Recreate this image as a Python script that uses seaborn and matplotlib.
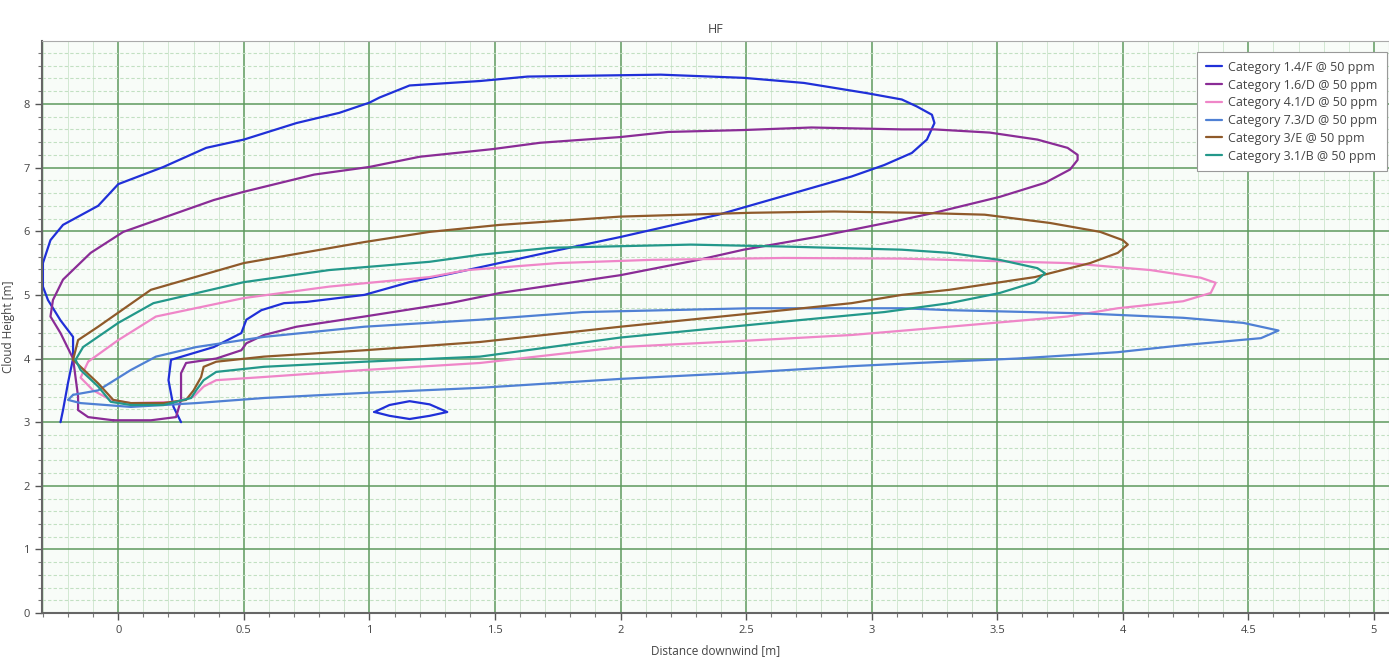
import numpy as np
import pandas as pd
import matplotlib
matplotlib.use("Agg")
import matplotlib.pyplot as plt
from matplotlib.ticker import MultipleLocator
import seaborn as sns

# --------------------------------------------------
# Contour data (distance downwind [m], cloud height [m])
# --------------------------------------------------
labels = [
    "Category 1.4/F @ 50 ppm",
    "Category 1.6/D @ 50 ppm",
    "Category 4.1/D @ 50 ppm",
    "Category 7.3/D @ 50 ppm",
    "Category 3/E @ 50 ppm",
    "Category 3.1/B @ 50 ppm",
]
colors = ["#2030d8", "#8a2c96", "#ef86c8", "#4f80d4", "#8f5a2a", "#23988a"]

# 1.4/F
x_14f = [-0.23, -0.22, -0.20, -0.18, -0.18, -0.23, -0.28, -0.30, -0.30, -0.27, -0.22,
         -0.08, 0.00, 0.18, 0.35, 0.50, 0.71, 0.88, 1.00, 1.04, 1.16, 1.44, 1.63,
         2.16, 2.49, 2.73, 2.98, 3.12, 3.18, 3.24, 3.25, 3.22, 3.16, 3.05, 2.92,
         2.39, 2.00, 1.76, 1.32, 1.16, 0.98, 0.75, 0.66, 0.57, 0.51, 0.49, 0.38,
         0.21, 0.20, 0.22, 0.25]
y_14f = [3.00, 3.19, 3.62, 4.00, 4.34, 4.60, 4.92, 5.13, 5.50, 5.86, 6.10,
         6.40, 6.74, 7.01, 7.31, 7.44, 7.70, 7.86, 8.02, 8.10, 8.29, 8.36, 8.43,
         8.46, 8.41, 8.33, 8.17, 8.07, 7.96, 7.83, 7.70, 7.44, 7.23, 7.04, 6.86,
         6.26, 5.91, 5.71, 5.33, 5.20, 5.00, 4.89, 4.87, 4.76, 4.61, 4.40, 4.18,
         3.98, 3.66, 3.24, 3.00]
# small island of 1.4/F
x_14f_b = [1.02, 1.08, 1.16, 1.24, 1.31, 1.24, 1.16, 1.08, 1.02]
y_14f_b = [3.16, 3.27, 3.33, 3.28, 3.16, 3.10, 3.05, 3.10, 3.16]

# 1.6/D
x_16d = [-0.02, -0.12, -0.16, -0.16, -0.18, -0.23, -0.27, -0.26, -0.22, -0.11,
         0.02, 0.38, 0.50, 0.78, 1.00, 1.20, 1.49, 1.68, 2.00, 2.19, 2.49, 2.76,
         3.12, 3.25, 3.47, 3.66, 3.78, 3.82, 3.82, 3.79, 3.69, 3.51, 3.25, 3.12,
         2.78, 2.49, 2.31, 2.00, 1.52, 1.32, 0.98, 0.71, 0.58, 0.51, 0.49, 0.39,
         0.27, 0.25, 0.25, 0.23, 0.13, -0.02]
y_16d = [3.03, 3.08, 3.19, 3.40, 4.00, 4.40, 4.66, 4.92, 5.24, 5.66,
         5.99, 6.49, 6.62, 6.89, 7.01, 7.17, 7.29, 7.39, 7.48, 7.56, 7.59, 7.63,
         7.60, 7.60, 7.55, 7.44, 7.31, 7.20, 7.12, 6.97, 6.76, 6.54, 6.29, 6.18,
         5.91, 5.71, 5.55, 5.31, 5.03, 4.87, 4.66, 4.50, 4.37, 4.24, 4.13, 4.00,
         3.93, 3.77, 3.35, 3.08, 3.03, 3.03]

# 4.1/D
x_41d = [-0.12, 0.00, 0.15, 0.50, 0.84, 1.24, 1.39, 1.75, 2.12, 2.65, 3.12, 3.31,
         3.78, 4.11, 4.31, 4.37, 4.35, 4.24, 3.98, 3.78, 3.31, 2.92, 2.50, 2.00,
         1.44, 0.98, 0.58, 0.39, 0.34, 0.30, 0.23, 0.05, -0.03, -0.10, -0.15, -0.12]
y_41d = [3.95, 4.29, 4.66, 4.95, 5.13, 5.28, 5.39, 5.50, 5.55, 5.58, 5.57, 5.55,
         5.50, 5.39, 5.27, 5.19, 5.03, 4.90, 4.79, 4.66, 4.50, 4.37, 4.28, 4.18,
         3.93, 3.82, 3.71, 3.66, 3.56, 3.40, 3.32, 3.30, 3.35, 3.50, 3.70, 3.95]

# 7.3/D
x_73d = [-0.18, -0.08, 0.05, 0.15, 0.31, 0.58, 0.98, 1.44, 1.85, 2.52, 3.12, 3.31,
         3.84, 4.24, 4.48, 4.62, 4.55, 4.24, 3.98, 3.58, 3.18, 2.92, 2.50, 2.00,
         1.44, 0.98, 0.58, 0.31, 0.05, -0.15, -0.20, -0.18]
y_73d = [3.43, 3.50, 3.82, 4.03, 4.18, 4.34, 4.50, 4.61, 4.73, 4.79, 4.79, 4.76,
         4.71, 4.64, 4.56, 4.44, 4.32, 4.21, 4.10, 4.00, 3.93, 3.88, 3.78, 3.68,
         3.54, 3.46, 3.38, 3.30, 3.24, 3.30, 3.35, 3.43]

# 3/E
x_3e = [-0.18, -0.16, -0.08, 0.13, 0.50, 0.98, 1.24, 1.52, 2.00, 2.52, 2.85, 3.18,
        3.45, 3.71, 3.91, 4.00, 4.02, 3.98, 3.87, 3.65, 3.31, 3.12, 2.92, 2.65,
        2.00, 1.44, 0.98, 0.58, 0.39, 0.34, 0.33, 0.30, 0.27, 0.18, 0.05, -0.02,
        -0.08, -0.15, -0.18]
y_3e = [3.98, 4.29, 4.50, 5.08, 5.50, 5.83, 5.99, 6.10, 6.23, 6.29, 6.31, 6.29,
        6.26, 6.13, 5.99, 5.86, 5.79, 5.66, 5.50, 5.28, 5.08, 5.00, 4.87, 4.76,
        4.50, 4.26, 4.13, 4.03, 3.95, 3.87, 3.71, 3.50, 3.35, 3.30, 3.30, 3.35,
        3.61, 3.87, 3.98]

# 3.1/B
x_31b = [-0.17, -0.14, 0.00, 0.14, 0.50, 0.84, 1.24, 1.44, 1.72, 2.28, 2.65, 3.12,
         3.31, 3.51, 3.66, 3.69, 3.65, 3.51, 3.31, 3.05, 2.65, 2.00, 1.44, 0.98,
         0.58, 0.39, 0.34, 0.31, 0.29, 0.18, 0.05, -0.03, -0.08, -0.15, -0.17]
y_31b = [3.98, 4.18, 4.56, 4.87, 5.20, 5.39, 5.52, 5.63, 5.74, 5.79, 5.76, 5.71,
         5.66, 5.55, 5.42, 5.34, 5.20, 5.03, 4.87, 4.73, 4.58, 4.33, 4.03, 3.95,
         3.87, 3.79, 3.66, 3.50, 3.38, 3.27, 3.27, 3.32, 3.56, 3.82, 3.98]

segments = [
    (labels[0], 0, x_14f, y_14f),
    (labels[0], 1, x_14f_b, y_14f_b),
    (labels[1], 0, x_16d, y_16d),
    (labels[2], 0, x_41d, y_41d),
    (labels[3], 0, x_73d, y_73d),
    (labels[4], 0, x_3e, y_3e),
    (labels[5], 0, x_31b, y_31b),
]
frames = []
for name, seg, xs, ys in segments:
    frames.append(pd.DataFrame({"series": name, "segment": seg, "x": xs, "y": ys}))
df = pd.concat(frames, ignore_index=True)

# --------------------------------------------------
# Plot
# --------------------------------------------------
sns.set_style("white")
plt.rcParams["font.family"] = ["Open Sans", "DejaVu Sans"]

fig = plt.figure(figsize=(13.89, 6.60), dpi=100)
ax = fig.add_axes([0.030, 0.071, 0.970, 0.867])
ax.set_facecolor("#f8fcf8")

sns.lineplot(data=df, x="x", y="y", hue="series", units="segment",
             estimator=None, sort=False, palette=dict(zip(labels, colors)),
             hue_order=labels, linewidth=1.6, ax=ax)

ax.set_xlim(-0.305, 5.06)
ax.set_ylim(0, 8.99)
ax.xaxis.set_minor_locator(MultipleLocator(0.1))
ax.yaxis.set_major_locator(MultipleLocator(1))
ax.yaxis.set_minor_locator(MultipleLocator(0.2))
ax.set_xticks(np.arange(0, 5.01, 0.5))
ax.set_xticklabels(["0", "0.5", "1", "1.5", "2", "2.5", "3", "3.5", "4", "4.5", "5"])

ax.grid(which="major", color="#5e9a5e", linewidth=1.1)
ax.grid(which="minor", axis="x", color="#d2e8d2", linewidth=0.7)
ax.grid(which="minor", axis="y", color="#c2e0c2", linewidth=0.8, linestyle=(0, (3, 2)))
ax.set_axisbelow(True)

ax.tick_params(which="major", direction="out", length=5, width=1, color="#555555",
               labelsize=8, labelcolor="#444444", bottom=True, left=True)
ax.tick_params(which="minor", direction="out", length=3, width=0.8, color="#777777",
               bottom=True, left=True)
for side in ["left", "bottom"]:
    ax.spines[side].set_color("#666666")
    ax.spines[side].set_linewidth(1.5)
for side in ["top", "right"]:
    ax.spines[side].set_color("#aaaaaa")
    ax.spines[side].set_linewidth(0.8)

ax.set_xlabel("Distance downwind [m]", fontsize=8.5, color="#444444", labelpad=6)
ax.set_ylabel("Cloud Height [m]", fontsize=8.5, color="#444444", labelpad=6)
ax.set_title("HF", fontsize=9, color="#444444", pad=6)

leg = ax.legend(loc="upper right", fontsize=9, frameon=True, fancybox=False,
                handlelength=1.3, handletextpad=0.5, labelspacing=0.38,
                borderpad=0.7, borderaxespad=0.2, bbox_to_anchor=(1.0, 0.985))
leg.get_frame().set_edgecolor("#999999")
leg.get_frame().set_linewidth(0.8)
leg.get_frame().set_alpha(1.0)
for t in leg.get_texts():
    t.set_color("#444444")

plt.savefig("out.png", dpi=100)
